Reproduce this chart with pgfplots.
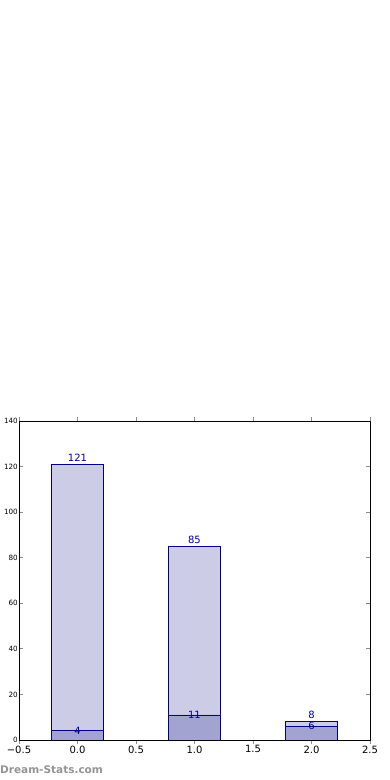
\documentclass[border=0pt]{standalone}
\usepackage{fontspec}
\setmainfont{DejaVu Sans}
\usepackage{pgfplots}
\pgfplotsset{compat=1.18}
\definecolor{lightbar}{RGB}{204,204,230}
\definecolor{darkbar}{RGB}{163,163,209}
\definecolor{edge}{RGB}{0,0,128}
\definecolor{lbl}{RGB}{0,0,150}
\begin{document}
\begin{tikzpicture}[x=1pt,y=1pt]
\path[use as bounding box] (0,0) rectangle (390,780);
\begin{axis}[
    at={(19pt,40pt)}, anchor=south west,
    width=351pt, height=319pt, scale only axis,
    xmin=-0.5, xmax=2.5, ymin=0, ymax=140,
    xtick={-0.5,0,0.5,1,1.5,2,2.5},
    xticklabels={{−0.5},{0.0},{0.5},{1.0},{1.5},{2.0},{2.5}},
    ytick={0,20,...,140},
    axis line style={line width=0.8pt},
    tick align=inside, tick pos=both,
    major tick length=4pt,
    every tick/.style={black!45, line width=0.8pt},
    xticklabel style={font=\fontsize{10}{12}\selectfont, inner sep=1.5pt},
    yticklabel style={font=\fontsize{7.2}{8}\selectfont, inner sep=1pt},
    /pgf/number format/assume math mode=true,
    ybar, bar width=0.45, bar shift=0pt,
]
\addplot[fill=lightbar, draw=edge, line width=0.8pt,
    nodes near coords,
    every node near coord/.append style={font=\fontsize{10}{12}\selectfont, text=lbl, anchor=south, inner sep=2.5pt}]
coordinates {(0,121) (1,85) (2,8)};
\addplot[fill=darkbar, draw=edge, line width=0.8pt,
    nodes near coords,
    every node near coord/.append style={font=\fontsize{10}{12}\selectfont, text=lbl, anchor=center, inner sep=0pt}]
coordinates {(0,4) (1,11) (2,6)};
\end{axis}
\node[anchor=west, inner sep=0pt, text=black!42, font=\bfseries\fontsize{10.5}{12}\selectfont] at (0,10) {Dream-Stats.com};
\end{tikzpicture}
\end{document}
